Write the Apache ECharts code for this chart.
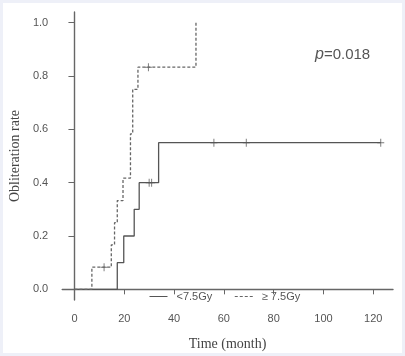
<!DOCTYPE html>
<html>
<head>
<meta charset="utf-8">
<script src="https://cdn.jsdelivr.net/npm/echarts@6/dist/echarts.min.js"></script>
<style>
html,body{margin:0;padding:0;background:#eef0f8;}
#c{position:absolute;left:0;top:0;width:405px;height:356px;background:#fff;box-shadow:inset 0 0 0 3px #eef0f8;}
</style>
</head>
<body>
<div id="c"></div>
<script>
const timeTicks = [0, 20, 40, 60, 80, 100, 120];
const rateTicks = [0, 0.2, 0.4, 0.6, 0.8, 1.0];
const seriesNames = ['<7.5Gy', '\u2265 7.5Gy'];
const lowTime = [0, 17.2, 19.8, 24, 26, 33.8, 123];
const lowRate = [0, 0.1, 0.2, 0.3, 0.4, 0.55, 0.55];
const lowCensorTime = [30, 31, 56, 69, 123];
const lowCensorRate = [0.4, 0.4, 0.55, 0.55, 0.55];
const highTime = [0, 7, 14.8, 16.1, 17.2, 19.5, 22.5, 23.4, 25.5, 48.8];
const highRate = [0, 0.083, 0.167, 0.25, 0.333, 0.417, 0.583, 0.75, 0.833, 1.0];
const highCensorTime = [11.9, 29.7];
const highCensorRate = [0.083, 0.833];

const pair = (xs, ys) => xs.map((x, i) => [x, ys[i]]);
const plus = 'path://M5,0L5,10M0,5L10,5';
const axisCol = '#666';
const txtCol = '#555';

const chart = echarts.init(document.getElementById('c'), null, {renderer: 'canvas'});
chart.setOption({
  animation: false,
  grid: {left: 58, right: 12, top: 12, bottom: 52},
  xAxis: {
    type: 'value', min: -4.92, max: 127.92,
    name: 'Time (month)', nameLocation: 'middle', nameGap: 37,
    nameTextStyle: {fontFamily: 'Liberation Serif', fontSize: 14, color: '#444'},
    axisLine: {show: true, lineStyle: {color: axisCol, width: 1.4}},
    axisTick: {show: true, length: 5, customValues: timeTicks, lineStyle: {color: axisCol}},
    axisLabel: {customValues: timeTicks, margin: 13, fontFamily: 'Liberation Sans', fontSize: 11, color: txtCol},
    splitLine: {show: false}
  },
  yAxis: {
    type: 'value', min: -0.04, max: 1.04,
    name: 'Obliteration rate', nameLocation: 'middle', nameGap: 36,
    nameTextStyle: {fontFamily: 'Liberation Serif', fontSize: 14, color: '#444'},
    axisLine: {show: true, lineStyle: {color: axisCol, width: 1.4}},
    axisTick: {show: true, length: 6, customValues: rateTicks, lineStyle: {color: axisCol}},
    axisLabel: {customValues: rateTicks, margin: 14, fontFamily: 'Liberation Sans', fontSize: 11, color: txtCol,
      formatter: v => v.toFixed(1)},
    splitLine: {show: false}
  },
  legend: {
    data: seriesNames, left: 144, top: 286, itemWidth: 18, itemHeight: 10, itemGap: 22,
    itemStyle: {opacity: 0},
    lineStyle: {width: 1},
    textStyle: {fontFamily: 'Liberation Sans', fontSize: 11, color: txtCol, padding: [0, 0, 0, 4]}
  },
  graphic: [{
    type: 'text', left: 315, top: 47,
    style: {
      text: '{i|p}=0.018',
      rich: {i: {fontStyle: 'italic', fontFamily: 'Liberation Sans', fontSize: 16, fill: '#555'}},
      fontFamily: 'Liberation Sans', fontSize: 15, fill: '#555'
    }
  }],
  series: [
    {name: seriesNames[0], type: 'line', step: 'end', symbol: 'none', data: pair(lowTime, lowRate),
      lineStyle: {color: '#555', width: 1.3}, itemStyle: {color: '#555'}},
    {name: seriesNames[1], type: 'line', step: 'end', symbol: 'none', data: pair(highTime, highRate),
      lineStyle: {color: '#666', width: 1.3, type: [3, 2]}, itemStyle: {color: '#666'}},
    {type: 'scatter', data: pair(lowCensorTime, lowCensorRate), symbol: plus, symbolSize: [7, 8],
      itemStyle: {color: 'transparent', borderColor: '#555', borderWidth: 1}},
    {type: 'scatter', data: pair(highCensorTime, highCensorRate), symbol: plus, symbolSize: [7, 8],
      itemStyle: {color: 'transparent', borderColor: '#555', borderWidth: 1}}
  ]
});
</script>
</body>
</html>
